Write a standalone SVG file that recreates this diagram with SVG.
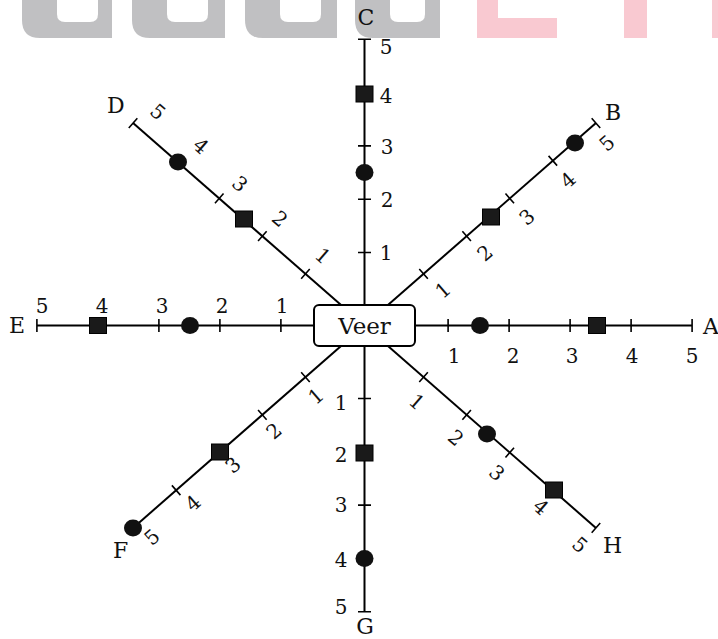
<svg xmlns="http://www.w3.org/2000/svg" width="718" height="639" viewBox="0 0 718 639">
<style>
.ax{stroke:#000;stroke-width:2;fill:none}
.tk{stroke:#000;stroke-width:1.6;fill:none}
.sq{fill:#1a1a1a;stroke:#000;stroke-width:1}
.dot{fill:#111}
.n{font-family:"DejaVu Serif","Liberation Serif",serif;font-size:20px;fill:#111;text-anchor:middle}
.L{font-family:"DejaVu Serif","Liberation Serif",serif;font-size:22px;fill:#111}
.wg{fill:#c0c0c2}
.wp{fill:#f9c9d1}
</style>
<g id="watermark">
<path class="wg" d="M22 0H112V38H40Q22 38 22 20Z"/>
<path class="wg" d="M132 0H225V38H150Q132 38 132 20Z"/>
<path class="wg" d="M245 0H337V38H263Q245 38 245 20Z"/>
<path class="wg" d="M355 0H440V38H373Q355 38 355 20Z"/>
<path fill="#fff" d="M57 0H98V14Q98 22 90 22H65Q57 22 57 14Z"/>
<path fill="#fff" d="M167 0H208V14Q208 22 200 22H175Q167 22 167 14Z"/>
<path fill="#fff" d="M280 0H321V14Q321 22 313 22H288Q280 22 280 14Z"/>
<path fill="#fff" d="M390 0H425V14Q425 22 417 22H398Q390 22 390 14Z"/>
<path class="wp" d="M477 0H498V18H557V38H477Z"/>
<rect class="wp" x="624" y="0" width="23" height="38"/>
<rect class="wp" x="712" y="0" width="6" height="38"/>
</g>
<g id="connectors">
<line class="ax" x1="364.5" y1="325.5" x2="692" y2="325.5"/>
<line class="ax" x1="364.5" y1="325.5" x2="37" y2="325.5"/>
<line class="ax" x1="364.5" y1="325.5" x2="364.5" y2="39.5"/>
<line class="ax" x1="364.5" y1="325.5" x2="364.5" y2="611.7"/>
<line class="ax" x1="364.5" y1="325.5" x2="595.95" y2="123.05"/>
<line class="ax" x1="364.5" y1="325.5" x2="133.05" y2="123.05"/>
<line class="ax" x1="364.5" y1="325.5" x2="133.05" y2="527.95"/>
<line class="ax" x1="364.5" y1="325.5" x2="595.95" y2="527.95"/>
</g>
<g id="axis-A">
<path class="tk" d="M448.1 319V332M509.1 319V332M570.1 319V332M631.1 319V332M692.1 319V332"/>
<ellipse class="dot" cx="480" cy="325.5" rx="9" ry="8.5"/>
<rect class="sq" x="588.5" y="317.5" width="17" height="16"/>
<text class="n" x="454" y="363">1</text><text class="n" x="513" y="363">2</text><text class="n" x="572" y="363">3</text><text class="n" x="632" y="363">4</text><text class="n" x="692" y="363">5</text>
<text class="L" x="703" y="334">A</text>
</g>
<g id="axis-E">
<path class="tk" d="M280.9 319V332M219.9 319V332M158.9 319V332M36.9 319V332"/>
<ellipse class="dot" cx="190" cy="325.5" rx="9" ry="8.5"/>
<rect class="sq" x="89.5" y="317.5" width="17" height="16"/>
<text class="n" x="42" y="313">5</text><text class="n" x="102" y="313">4</text><text class="n" x="162" y="313">3</text><text class="n" x="222" y="313">2</text><text class="n" x="282" y="313">1</text>
<text class="L" x="9" y="333">E</text>
</g>
<g id="axis-C">
<path class="tk" d="M358 252.5H371M358 199.2H371M358 145.9H371M358 39.3H371"/>
<ellipse class="dot" cx="364.5" cy="172.5" rx="9" ry="8.5"/>
<rect class="sq" x="356" y="86" width="17" height="16"/>
<text class="n" x="386" y="260">1</text><text class="n" x="387" y="207">2</text><text class="n" x="387" y="154">3</text><text class="n" x="386" y="103">4</text><text class="n" x="386" y="54">5</text>
<text class="L" x="366" y="25" text-anchor="middle">C</text>
</g>
<g id="axis-G">
<path class="tk" d="M358 398.5H371M358 505.1H371M358 611.7H371"/>
<rect class="sq" x="356" y="445" width="17" height="16"/>
<ellipse class="dot" cx="364.5" cy="558.4" rx="9" ry="8.5"/>
<text class="n" x="341" y="410">1</text><text class="n" x="341" y="462">2</text><text class="n" x="341" y="512">3</text><text class="n" x="341" y="567">4</text><text class="n" x="341" y="614">5</text>
<text class="L" x="365" y="634" text-anchor="middle">G</text>
</g>
<g id="axis-B">
<path class="tk" d="M419.27 268.96L427.83 278.74M462.37 231.26L470.93 241.04M505.47 193.56L514.03 203.34M548.57 155.86L557.13 165.64M591.67 118.16L600.23 127.94"/>
<rect class="sq" x="482.5" y="209" width="17" height="16"/>
<ellipse class="dot" cx="575" cy="143" rx="9" ry="8.5"/>
<g class="n"><text transform="translate(443,290) rotate(-41)" y="7">1</text><text transform="translate(485,253) rotate(-41)" y="7">2</text><text transform="translate(527,217) rotate(-41)" y="7">3</text><text transform="translate(568,180) rotate(-41)" y="7">4</text><text transform="translate(607,143) rotate(-41)" y="7">5</text></g>
<text class="L" x="605" y="120">B</text>
</g>
<g id="axis-D">
<path class="tk" d="M301.17 278.74L309.73 268.96M258.07 241.04L266.63 231.26M214.97 203.34L223.53 193.56M128.77 127.94L137.33 118.16"/>
<rect class="sq" x="235.5" y="211" width="17" height="16"/>
<ellipse class="dot" cx="178" cy="162" rx="9" ry="8.5"/>
<g class="n"><text transform="translate(323,256) rotate(41)" y="7">1</text><text transform="translate(280,219) rotate(41)" y="7">2</text><text transform="translate(240,184) rotate(41)" y="7">3</text><text transform="translate(201,146) rotate(41)" y="7">4</text><text transform="translate(158,112) rotate(41)" y="7">5</text></g>
<text class="L" x="107" y="113">D</text>
</g>
<g id="axis-F">
<path class="tk" d="M301.17 372.26L309.73 382.04M258.07 409.96L266.63 419.74M171.87 485.36L180.43 495.14"/>
<rect class="sq" x="211.5" y="444" width="17" height="16"/>
<ellipse class="dot" cx="133" cy="528" rx="9" ry="8.5"/>
<g class="n"><text transform="translate(316,396) rotate(-41)" y="7">1</text><text transform="translate(274,431) rotate(-41)" y="7">2</text><text transform="translate(233,465) rotate(-41)" y="7">3</text><text transform="translate(193,503) rotate(-41)" y="7">4</text><text transform="translate(152,537) rotate(-41)" y="7">5</text></g>
<text class="L" x="113" y="558">F</text>
</g>
<g id="axis-H">
<path class="tk" d="M419.27 382.04L427.83 372.26M462.37 419.74L470.93 409.96M505.47 457.44L514.03 447.66M591.67 532.84L600.23 523.06"/>
<ellipse class="dot" cx="487" cy="434" rx="9" ry="8.5"/>
<rect class="sq" x="545.5" y="482" width="17" height="16"/>
<g class="n"><text transform="translate(417,402) rotate(41)" y="7">1</text><text transform="translate(456,438) rotate(41)" y="7">2</text><text transform="translate(497,473) rotate(41)" y="7">3</text><text transform="translate(541,507) rotate(41)" y="7">4</text><text transform="translate(580,545) rotate(41)" y="7">5</text></g>
<text class="L" x="603" y="553">H</text>
</g>
<g id="node-veer">
<rect x="314" y="305" width="101" height="41" rx="5" fill="#fff" stroke="#000" stroke-width="2"/>
<text x="364.5" y="334" font-family="'DejaVu Serif','Liberation Serif',serif" font-size="23" fill="#111" text-anchor="middle">Veer</text>
</g>
</svg>
